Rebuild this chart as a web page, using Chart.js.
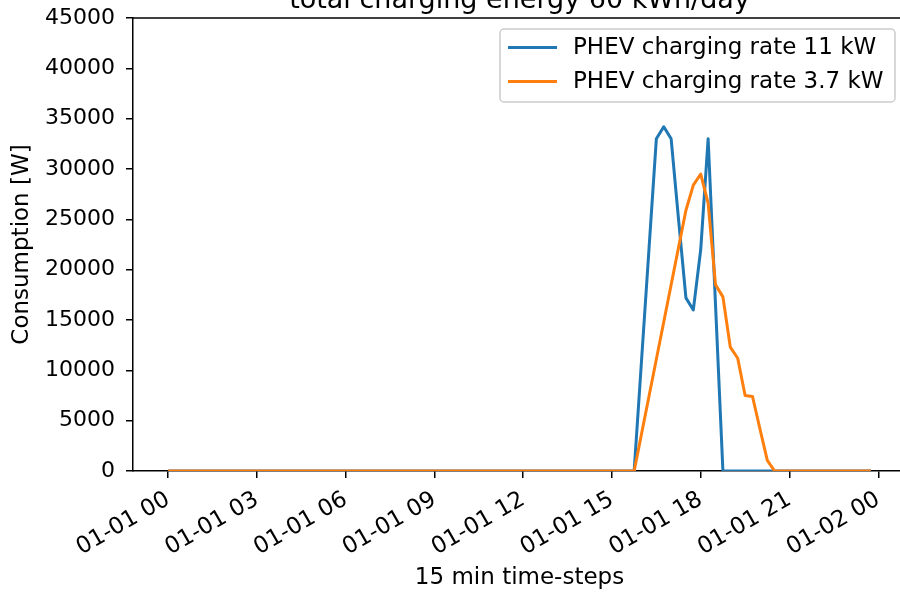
<!DOCTYPE html>
<html lang="en">
<head>
  <meta charset="UTF-8">
  <title>PHEV charging consumption</title>
  <script src="https://cdn.jsdelivr.net/npm/chart.js"></script>
  <style>
    html, body {
      margin: 0;
      padding: 0;
      background: #fff;
      overflow: hidden;
      width: 900px;
      height: 592px;
    }
    #wrap {
      position: absolute;
      left: 0;
      top: -20px;
      width: 910px;
      height: 612px;
    }
  </style>
</head>
<body>
  <div id="wrap">
    <canvas id="chart" width="910" height="612"></canvas>
  </div>

  <script>
    // 96 quarter-hour steps of one day, values in W
    const rate11kW = [
      0, 0, 0, 0, 0, 0, 0, 0, 0, 0, 0, 0,
      0, 0, 0, 0, 0, 0, 0, 0, 0, 0, 0, 0,
      0, 0, 0, 0, 0, 0, 0, 0, 0, 0, 0, 0,
      0, 0, 0, 0, 0, 0, 0, 0, 0, 0, 0, 0,
      0, 0, 0, 0, 0, 0, 0, 0, 0, 0, 0, 0,
      0, 0, 0, 0, 11000, 22000, 33000, 34200, 33000, 25000, 17200, 16000,
      22000, 33000, 16500, 0, 0, 0, 0, 0, 0, 0, 0, 0,
      0, 0, 0, 0, 0, 0, 0, 0, 0, 0, 0, 0
    ];
    const rate3_7kW = [
      0, 0, 0, 0, 0, 0, 0, 0, 0, 0, 0, 0,
      0, 0, 0, 0, 0, 0, 0, 0, 0, 0, 0, 0,
      0, 0, 0, 0, 0, 0, 0, 0, 0, 0, 0, 0,
      0, 0, 0, 0, 0, 0, 0, 0, 0, 0, 0, 0,
      0, 0, 0, 0, 0, 0, 0, 0, 0, 0, 0, 0,
      0, 0, 0, 0, 3700, 7400, 11100, 14800, 18500, 22200, 25900, 28400,
      29500, 26600, 18500, 17300, 12300, 11200, 7500, 7400, 4200, 1050, 0, 0,
      0, 0, 0, 0, 0, 0, 0, 0, 0, 0, 0, 0
    ];
    const seriesNames = ["PHEV charging rate 11 kW", "PHEV charging rate 3.7 kW"];
    const seriesColors = ["#1f77b4", "#ff7f0e"];

    // x ticks every 3 hours (12 steps)
    const xTickSteps = [0, 12, 24, 36, 48, 60, 72, 84, 96];
    const xTickLabels = ["01-01 00", "01-01 03", "01-01 06", "01-01 09", "01-01 12",
                         "01-01 15", "01-01 18", "01-01 21", "01-02 00"];
    const yTicks = [0, 5000, 10000, 15000, 20000, 25000, 30000, 35000, 40000, 45000];

    const chartTitle = "total charging energy 60 kWh/day";

    Chart.defaults.font.family = "'DejaVu Sans', sans-serif";
    Chart.defaults.font.size = 22;
    Chart.defaults.color = "#000";

    const toPoints = (arr) => arr.map((v, i) => ({ x: i, y: v }));

    // boxed legend in the upper right, plus the top spine
    const framePlugin = {
      id: "frame",
      afterDraw(chart) {
        const ctx = chart.ctx;
        const area = chart.chartArea;
        ctx.save();
        ctx.strokeStyle = "#000";
        ctx.lineWidth = 1.5;
        ctx.beginPath();
        ctx.moveTo(area.left, area.top);
        ctx.lineTo(area.right, area.top);
        ctx.stroke();

        const boxR = area.right - 11, boxL = area.left + 367;
        const boxT = area.top + 11, boxB = area.top + 84;
        ctx.fillStyle = "rgba(255,255,255,0.8)";
        ctx.strokeStyle = "#cccccc";
        ctx.lineWidth = 1.5;
        ctx.beginPath();
        ctx.roundRect(boxL, boxT, boxR - boxL, boxB - boxT, 4);
        ctx.fill();
        ctx.stroke();

        ctx.font = "23px 'DejaVu Sans', sans-serif";
        ctx.textBaseline = "middle";
        ctx.textAlign = "left";
        chart.data.datasets.forEach((ds, i) => {
          const y = boxT + 18.5 + i * 34;
          ctx.strokeStyle = ds.borderColor;
          ctx.lineWidth = 3;
          ctx.beginPath();
          ctx.moveTo(boxL + 8, y);
          ctx.lineTo(boxL + 57, y);
          ctx.stroke();
          ctx.fillStyle = "#000";
          ctx.fillText(ds.label, boxL + 73, y + 1);
        });
        ctx.restore();
      }
    };

    new Chart(document.getElementById("chart"), {
      type: "line",
      data: {
        datasets: [
          {
            label: seriesNames[0],
            data: toPoints(rate11kW),
            borderColor: seriesColors[0],
            backgroundColor: seriesColors[0],
            borderWidth: 3,
            pointRadius: 0,
            tension: 0,
            borderJoinStyle: "round",
            order: 1
          },
          {
            label: seriesNames[1],
            data: toPoints(rate3_7kW),
            borderColor: seriesColors[1],
            backgroundColor: seriesColors[1],
            borderWidth: 3,
            pointRadius: 0,
            tension: 0,
            borderJoinStyle: "round",
            order: 0
          }
        ]
      },
      options: {
        responsive: false,
        animation: false,
        layout: { padding: { left: 0, right: 4, top: 0, bottom: 0 } },
        plugins: {
          legend: { display: false },
          tooltip: { enabled: false },
          title: {
            display: true,
            text: chartTitle,
            fullSize: false,
            font: { size: 27, weight: "normal" },
            color: "#000",
            padding: { top: 4.9, bottom: 0.7 }
          }
        },
        scales: {
          x: {
            type: "linear",
            min: -4.75,
            max: 99.75,
            afterBuildTicks(scale) {
              scale.ticks = xTickSteps.map((v) => ({ value: v }));
            },
            afterFit(scale) { scale.height = 121; },
            ticks: {
              autoSkip: false,
              minRotation: 30,
              maxRotation: 30,
              padding: 8,
              font: { size: 23 },
              callback: (v) => xTickLabels[xTickSteps.indexOf(v)]
            },
            grid: {
              drawOnChartArea: false,
              drawTicks: true,
              tickLength: 7,
              color: "#000",
              lineWidth: 1.5
            },
            border: { display: true, color: "#000", width: 1.5 },
            title: {
              display: true,
              text: "15 min time-steps",
              font: { size: 23 },
              padding: { top: 4, bottom: 0 }
            }
          },
          y: {
            min: 0,
            max: 45000,
            afterBuildTicks(scale) {
              scale.ticks = yTicks.map((v) => ({ value: v }));
            },
            afterFit(scale) { scale.width = 133; },
            ticks: {
              padding: 11,
              callback: (v) => String(v)
            },
            grid: {
              drawOnChartArea: false,
              drawTicks: true,
              tickLength: 7,
              color: "#000",
              lineWidth: 1.5
            },
            border: { display: true, color: "#000", width: 1.5 },
            title: {
              display: true,
              text: "Consumption [W]",
              font: { size: 23 },
              padding: { top: 8, bottom: 0 }
            }
          }
        }
      },
      plugins: [framePlugin]
    });
  </script>
</body>
</html>
